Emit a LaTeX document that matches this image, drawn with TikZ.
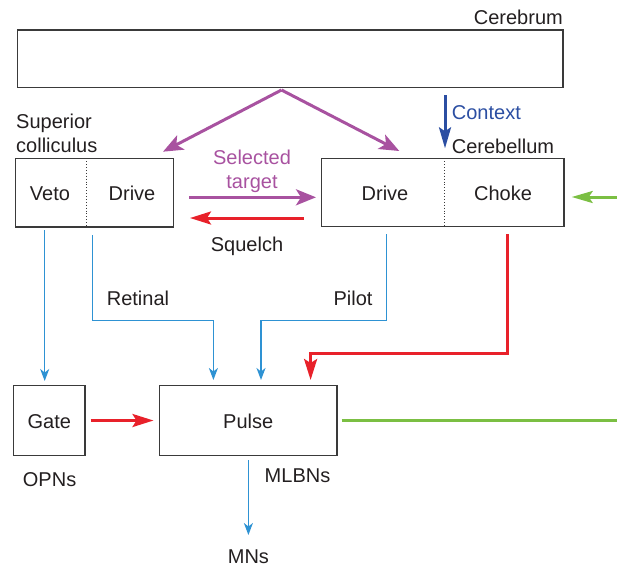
\documentclass[tikz,border=0pt]{standalone}
\usepackage{fontspec}
\setmainfont{Liberation Sans}
\usetikzlibrary{arrows.meta}
\definecolor{cpur}{HTML}{A852A0}
\definecolor{cred}{HTML}{E8212A}
\definecolor{clblue}{HTML}{2E92D3}
\definecolor{cdblue}{HTML}{2B4EA2}
\definecolor{cgreen}{HTML}{7BBF43}
\definecolor{cbox}{HTML}{3A3A3A}
\definecolor{ctext}{HTML}{231F20}
\begin{document}
\begin{tikzpicture}[x=1pt,y=-1pt,
  every node/.style={font=\fontsize{20}{24}\selectfont, text=ctext},
  box/.style={draw=cbox, line width=1.3pt, inner sep=0pt},
  lbl/.style={inner sep=0pt, anchor=base},
  lblw/.style={inner sep=0pt, anchor=base west},
  lble/.style={inner sep=0pt, anchor=base east},
  divider/.style={draw=cbox, line width=0.9pt, dotted},
  purplearrow/.style={draw=cpur, line width=3pt, -{Stealth[length=20pt,width=16pt,inset=5pt]}},
  redarrow/.style={draw=cred, line width=3pt, -{Stealth[length=21pt,width=13pt,inset=4pt]}},
  greenarrow/.style={draw=cgreen, line width=3pt, -{Stealth[length=21pt,width=12pt,inset=4pt]}},
  darkbluearrow/.style={draw=cdblue, line width=3pt, -{Stealth[length=21pt,width=12pt,inset=4pt]}},
  bluearrow/.style={draw=clblue, line width=1.5pt, -{Stealth[length=12pt,width=9pt,inset=3.5pt]}},
]
\useasboundingbox (0,0) rectangle (617,566);
\clip (0,0) rectangle (617,566);

% boxes
\node[box, minimum width=545.3pt, minimum height=57.7pt] (cerebrum) at (290.4,58.85) {};
\node[box, minimum width=158.4pt, minimum height=68.7pt] (sc) at (94.5,192.6) {};
\node[box, minimum width=242.3pt, minimum height=68.4pt] (cb) at (442.85,192.5) {};
\node[box, minimum width=71.6pt, minimum height=70.1pt] (gate) at (49.3,420.5) {};
\node[box, minimum width=177.6pt, minimum height=70.1pt] (pulse) at (248.2,420.5) {};

% dividers
\draw[divider] (86.3,158.3) coordinate (scdt) -- (86.3,227) coordinate (scdb);
\draw[divider] (444.3,158.3) coordinate (cbdt) -- (444.3,226.7) coordinate (cbdb);

% texts
\node[lble] (tcerebrum) at (563,24) {Cerebrum};
\node[lblw] (tsup) at (16,128) {Superior};
\node[lblw] (tcoll) at (16,152) {colliculus};
\node[lbl] (tveto) at (50,200) {Veto};
\node[lbl] (tdrive1) at (132,200) {Drive};
\node[lbl] (tdrive2) at (385,200) {Drive};
\node[lbl] (tchoke) at (503,200) {Choke};
\node[lbl, text=cpur] (tsel) at (252,164) {Selected};
\node[lbl, text=cpur] (ttarget) at (252,188) {target};
\node[lbl] (tsquelch) at (247,251) {Squelch};
\node[lblw, text=cdblue] (tcontext) at (451.7,119) {Context};
\node[lblw] (tcerebellum) at (451.7,153) {Cerebellum};
\node[lbl] (tretinal) at (138,305) {Retinal};
\node[lbl] (tpilot) at (353,305) {Pilot};
\node[lbl] (tgate) at (49.3,428) {Gate};
\node[lbl] (tpulse) at (248.2,428) {Pulse};
\node[lbl] (topns) at (49.6,486) {OPNs};
\node[lbl] (tmlbns) at (297.5,482) {MLBNs};
\node[lbl] (tmns) at (248.4,563) {MNs};

% coordinates
\coordinate (apex) at (281.5,90);
\coordinate (pl) at (163,151.7);
\coordinate (pr) at (399.3,151);
\coordinate (selS) at (189,197.3);
\coordinate (selE) at (316,197.3);
\coordinate (sqS) at (304,218);
\coordinate (sqE) at (190,218);
\coordinate (ctxS) at (445,95);
\coordinate (ctxE) at (445,148.3);
\coordinate (grS) at (341.7,420.5);
\coordinate (grA) at (640,420.5);
\coordinate (grB) at (640,197);
\coordinate (grE) at (571.7,197);
\coordinate (vetoS) at (44.7,230);
\coordinate (vetoE) at (44.7,381);
\coordinate (retS) at (92.3,235);
\coordinate (retA) at (92.3,320.5);
\coordinate (retB) at (213.4,320.5);
\coordinate (retE) at (213.4,380);
\coordinate (pilS) at (386.7,234);
\coordinate (pilA) at (386.7,320.5);
\coordinate (pilB) at (261,320.5);
\coordinate (pilE) at (261,380);
\coordinate (chS) at (507.8,234);
\coordinate (chA) at (507.8,353);
\coordinate (chB) at (310.6,353);
\coordinate (chE) at (310.6,380);
\coordinate (gpS) at (90.5,420.5);
\coordinate (gpE) at (153.5,420.5);
\coordinate (mnS) at (248.4,460);
\coordinate (mnE) at (248.4,535);

% connectors
\draw[purplearrow] (apex) -- (pl);
\draw[purplearrow] (apex) -- (pr);
\draw[purplearrow] (selS) -- (selE);
\draw[redarrow] (sqS) -- (sqE);
\draw[darkbluearrow] (ctxS) -- (ctxE);
\draw[greenarrow] (grS) -- (grA) -- (grB) -- (grE);
\draw[bluearrow] (vetoS) -- (vetoE);
\draw[bluearrow] (retS) -- (retA) -- (retB) -- (retE);
\draw[bluearrow] (pilS) -- (pilA) -- (pilB) -- (pilE);
\draw[redarrow] (chS) -- (chA) -- (chB) -- (chE);
\draw[redarrow] (gpS) -- (gpE);
\draw[bluearrow] (mnS) -- (mnE);
\end{tikzpicture}
\end{document}
